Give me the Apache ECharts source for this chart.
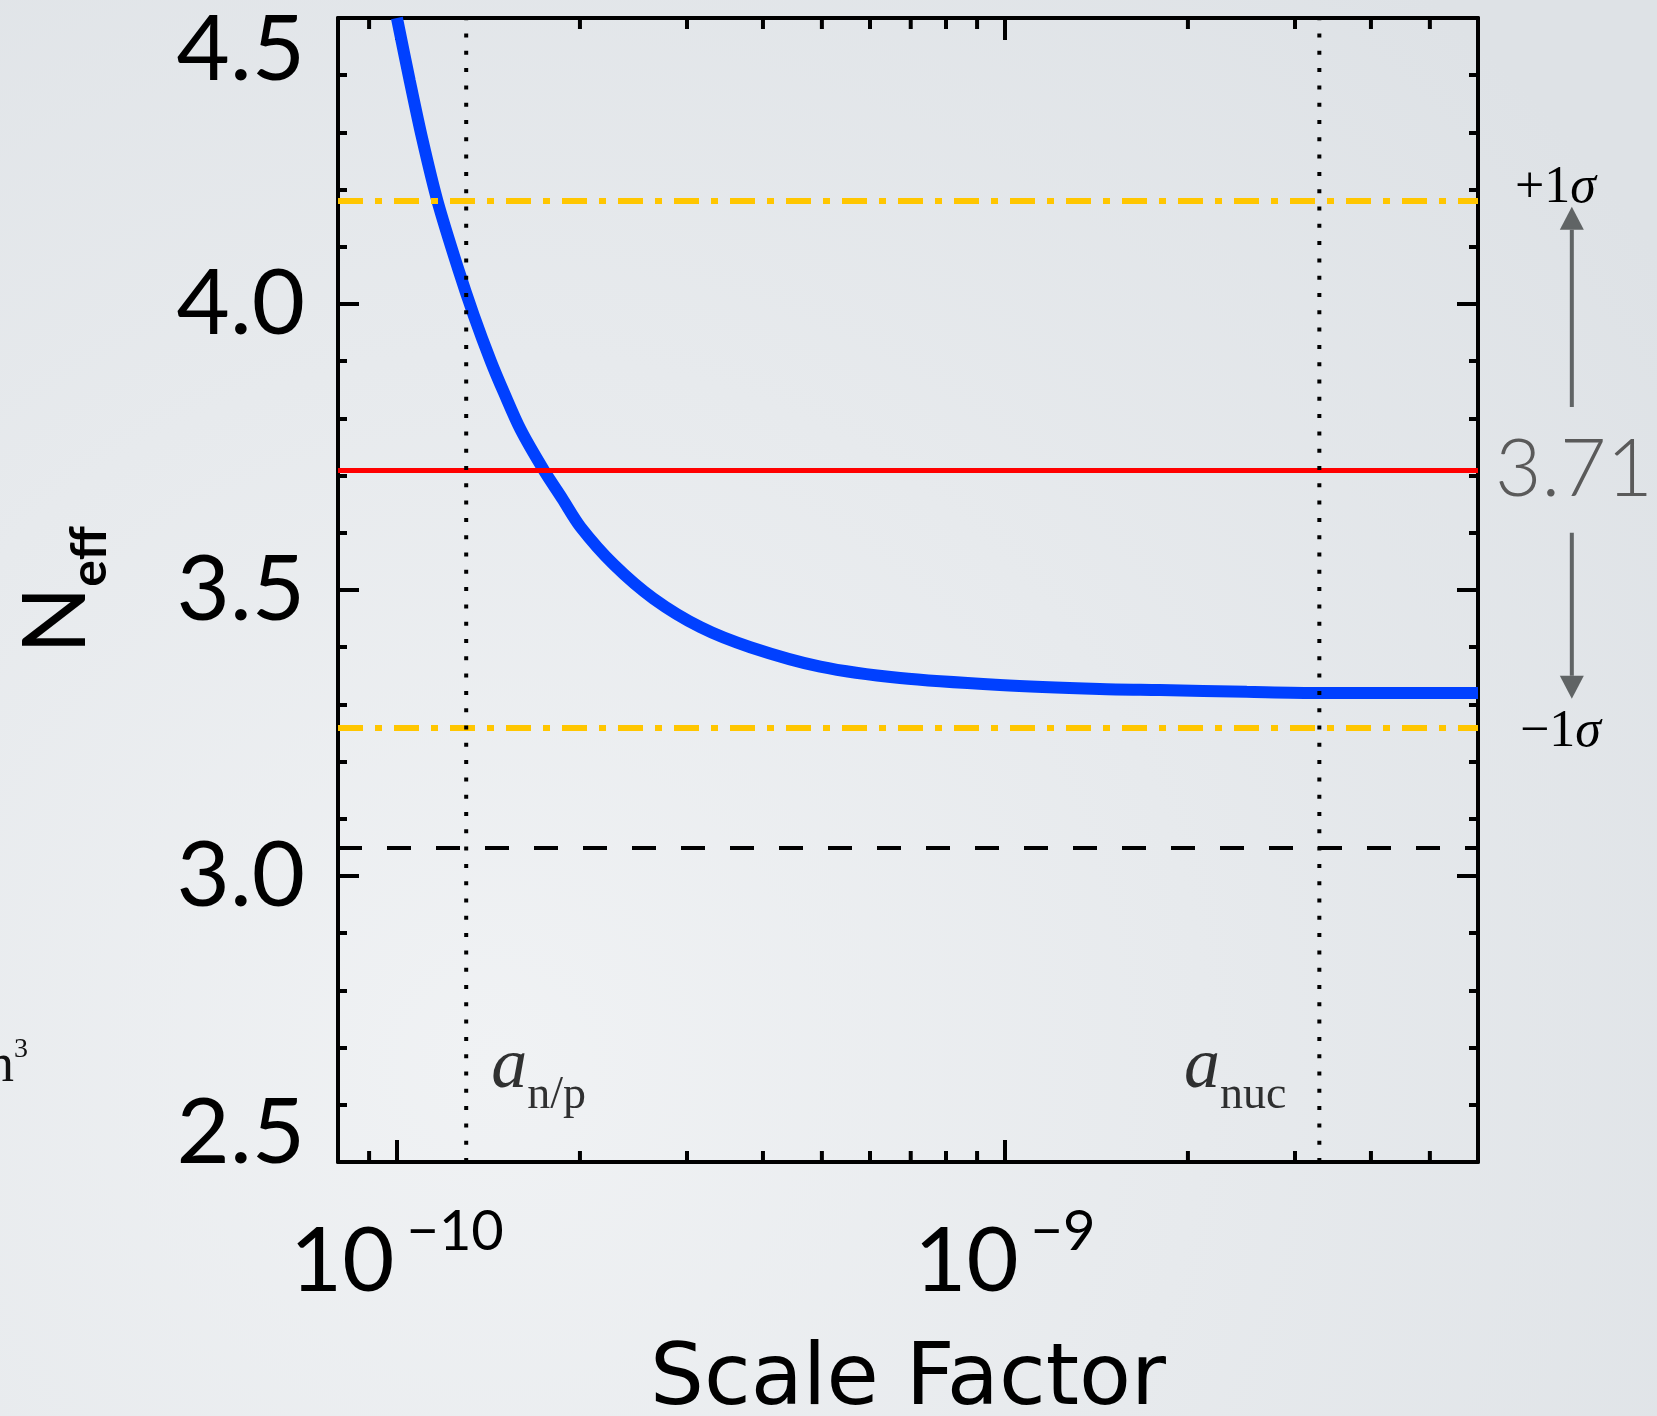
<!DOCTYPE html>
<html>
<head>
<meta charset="utf-8">
<title>N_eff vs Scale Factor</title>
<script src="https://cdn.jsdelivr.net/npm/echarts@6/dist/echarts.min.js"></script>
<style>
  html, body { margin: 0; padding: 0; background: #e8eaed; }
  #chart { width: 1657px; height: 1416px; }
</style>
</head>
<body>
<div id="chart"></div>
<script>
// Effective number of neutrino species as a function of the scale factor
const scaleFactor = [1.00e-10, 1.05e-10, 1.10e-10, 1.166e-10, 1.258e-10, 1.338e-10, 1.427e-10,
  1.50e-10, 1.598e-10, 1.743e-10, 1.87e-10, 2.005e-10, 2.271e-10, 2.642e-10, 3.157e-10,
  3.813e-10, 4.969e-10, 6.725e-10, 9.81e-10, 1.432e-9, 1.797e-9, 2.5e-9, 3.289e-9, 6.0e-9];
const nEff = [4.50, 4.39, 4.29, 4.18, 4.065, 3.98, 3.90,
  3.845, 3.78, 3.71, 3.66, 3.61, 3.545, 3.485, 3.435,
  3.40, 3.366, 3.346, 3.334, 3.327, 3.325, 3.322, 3.320, 3.320];

// Reference levels
const measuredNeff = 3.71;
const sigmaLevels = [4.18, 3.26];          // +1σ, −1σ
const sigmaNames = ['+1', '\u22121'];
const standardNeff = 3.046;

// Epochs marked by vertical dotted lines
const epochNames = ['n/p', 'nuc'];
const epochScale = [1.30e-10, 3.29e-9];

// Axis ranges and ticks
const X_MIN = 8e-11, X_MAX = 6e-9;
const Y_MIN = 2.5, Y_MAX = 4.5, Y_STEP = 0.5;
const xMinorTicks = [9e-11, 2e-10, 3e-10, 4e-10, 5e-10, 6e-10, 7e-10, 8e-10, 9e-10,
  2e-9, 3e-9, 4e-9, 5e-9];

// Arrows between the measured value and the ±1σ levels (from, to)
const arrowFrom = [3.82, 3.60];
const arrowTo = [4.17, 3.31];
const ARROW_A = 8.56e-9;
const EPOCH_LABEL_N = 2.651;

const FONT = 'Lato, "DejaVu Sans", sans-serif';
const TITLE_FONT = '"DejaVu Sans", Lato, sans-serif';
const SERIF = '"Liberation Serif", "DejaVu Serif", serif';

const chart = echarts.init(document.getElementById('chart'), null, { renderer: 'canvas', width: 1657, height: 1416 });

function powerLabel(v) {
  const e = Math.log10(v);
  const r = Math.round(e);
  if (Math.abs(e - r) > 1e-6) return '';
  return '{b|10}{s|' + (r < 0 ? '\u2212' : '') + Math.abs(r) + '}';
}
function neffLabel(v) {
  const t = v.toFixed(1);
  if (Math.abs(v - Y_MAX) < 1e-9) return '{hi|' + t + '}';
  if (Math.abs(v - Y_MIN) < 1e-9) return '{lo|' + t + '}';
  return '{m|' + t + '}';
}

const tickLine = { color: '#000', width: 4 };
const yLabelBase = { fontFamily: FONT, fontSize: 92, color: '#000' };
const sigmaRich = {
  r: { fontFamily: SERIF, fontSize: 52, color: '#000' },
  i: { fontFamily: SERIF, fontSize: 52, fontStyle: 'italic', color: '#000' }
};

const xAxisCommon = {
  type: 'log', logBase: 10, min: X_MIN, max: X_MAX,
  axisLine: { show: true, onZero: false, lineStyle: { color: '#000', width: 4 } },
  axisTick: { show: true, inside: true, length: 22, lineStyle: tickLine },
  splitLine: { show: false }, minorTick: { show: false }, minorSplitLine: { show: false }
};
const yAxisCommon = {
  type: 'value', min: Y_MIN, max: Y_MAX, interval: Y_STEP,
  axisLine: { show: true, onZero: false, lineStyle: { color: '#000', width: 4 } },
  axisTick: { show: true, inside: true, length: 21, lineStyle: tickLine },
  minorTick: { show: true, splitNumber: 5, length: 9, lineStyle: tickLine },
  splitLine: { show: false }, minorSplitLine: { show: false }
};

const option = {
  animation: false,
  backgroundColor: {
    type: 'radial', x: 0.3, y: 0.75, r: 1.0,
    colorStops: [{ offset: 0, color: '#f0f2f4' }, { offset: 1, color: '#dee2e6' }]
  },
  grid: { left: 338, top: 18, width: 1140, height: 1144, containLabel: false, outerBoundsMode: 'none' },
  xAxis: [
    Object.assign({}, xAxisCommon, {
      position: 'bottom',
      name: 'Scale Factor', nameLocation: 'middle', nameGap: 177,
      nameTextStyle: { fontFamily: TITLE_FONT, fontSize: 85, color: '#000', lineHeight: 85 },
      axisLabel: {
        show: true, margin: 42, showMinLabel: false, showMaxLabel: false,
        formatter: powerLabel,
        rich: {
          b: { fontFamily: FONT, fontSize: 90, color: '#000', lineHeight: 103, verticalAlign: 'bottom' },
          s: { fontFamily: FONT, fontSize: 56, color: '#000', lineHeight: 58, verticalAlign: 'top', padding: [0, 0, 0, 12] }
        }
      }
    }),
    Object.assign({}, xAxisCommon, { position: 'top', axisLabel: { show: false } })
  ],
  yAxis: [
    Object.assign({}, yAxisCommon, {
      position: 'left',
      name: '{n|N}{s|eff}', nameLocation: 'middle', nameRotate: 90, nameGap: 223,
      nameTextStyle: {
        rich: {
          n: { fontFamily: FONT, fontSize: 88, color: '#000', lineHeight: 102, verticalAlign: 'top' },
          s: { fontFamily: FONT, fontSize: 50, fontWeight: 'bold', color: '#000', lineHeight: 50, verticalAlign: 'bottom' }
        }
      },
      axisLabel: {
        show: true, margin: 33, formatter: neffLabel,
        rich: {
          m: yLabelBase,
          hi: Object.assign({}, yLabelBase, { padding: [64, 0, 0, 0] }),
          lo: Object.assign({}, yLabelBase, { padding: [0, 0, 58, 0] })
        }
      }
    }),
    Object.assign({}, yAxisCommon, { position: 'right', axisLabel: { show: false } })
  ],
  graphic: [{
    type: 'text', left: -13, top: 1036, silent: true,
    style: {
      text: '{n|n}{s|3}',
      rich: {
        n: { fontFamily: SERIF, fontSize: 54, fill: '#111', lineHeight: 58, verticalAlign: 'bottom' },
        s: { fontFamily: SERIF, fontSize: 28, fill: '#111', lineHeight: 30, verticalAlign: 'top' }
      }
    }
  }],
  series: [
    {
      name: 'N_eff', type: 'line', xAxisIndex: 0, yAxisIndex: 0, z: 2,
      data: scaleFactor.map((a, i) => [a, nEff[i]]),
      smooth: 0.3, symbol: 'none', clip: true, silent: true,
      lineStyle: { color: '#0040ff', width: 12, cap: 'butt' }
    },
    {
      name: 'levels', type: 'line', data: [], silent: true,
      markLine: {
        z: 5, silent: true, symbol: ['none', 'none'], animation: false,
        data: [
          {
            yAxis: sigmaLevels[0],
            lineStyle: { color: '#ffc600', width: 6, type: [25, 12, 7, 12], cap: 'butt' },
            label: {
              show: true, position: 'end', distance: 37, padding: [0, 0, 26, 0],
              formatter: '{r|' + sigmaNames[0] + '}{i|\u03c3}', rich: sigmaRich
            }
          },
          {
            yAxis: sigmaLevels[1],
            lineStyle: { color: '#ffc600', width: 6, type: [25, 12, 7, 12], cap: 'butt' },
            label: {
              show: true, position: 'end', distance: 42, padding: [10, 0, 0, 0],
              formatter: '{r|' + sigmaNames[1] + '}{i|\u03c3}', rich: sigmaRich
            }
          },
          {
            yAxis: measuredNeff,
            lineStyle: { color: '#ff0000', width: 5, type: 'solid' },
            label: {
              show: true, position: 'end', distance: 17, padding: [0, 0, 10, 0],
              formatter: (p) => String(p.value),
              fontFamily: FONT, fontWeight: 300, fontSize: 80, color: '#5a5a5a'
            }
          },
          {
            yAxis: standardNeff,
            lineStyle: { color: '#000', width: 4, type: [24, 25], cap: 'butt' },
            label: { show: false }
          }
        ]
      }
    },
    {
      name: 'epochs', type: 'custom', silent: true, clip: false, z: 9,
      data: epochScale.map(a => [a, Y_MIN, Y_MAX]),
      encode: { x: 0, y: [1, 2] },
      renderItem: function (params, api) {
        const b = api.coord([api.value(0), api.value(1)]);
        const t = api.coord([api.value(0), api.value(2)]);
        return {
          type: 'line',
          shape: { x1: b[0], y1: b[1], x2: t[0], y2: t[1] },
          style: { stroke: '#000', lineWidth: 4, lineDash: [4, 13.3], lineCap: 'butt' }
        };
      }
    },
    {
      name: 'epoch labels', type: 'scatter', symbolSize: 0, silent: true, z: 10,
      data: epochScale.map((a, i) => ({
        value: [a, EPOCH_LABEL_N],
        label: {
          show: true,
          position: i === 0 ? 'right' : 'left',
          distance: i === 0 ? 25 : 33,
          formatter: '{a|a}{s|' + epochNames[i] + '}',
          rich: {
            a: { fontFamily: SERIF, fontStyle: 'italic', fontSize: 72, color: '#000', lineHeight: 87, verticalAlign: 'top' },
            s: { fontFamily: SERIF, fontSize: 46, color: '#000', lineHeight: 50, verticalAlign: 'bottom' }
          }
        }
      }))
    },
    {
      name: 'minor ticks', type: 'custom', silent: true, clip: false, z: 8,
      data: xMinorTicks.map(v => [v, Y_MIN]),
      encode: { x: 0, y: 1 },
      renderItem: function (params, api) {
        const v = api.value(0);
        const b = api.coord([v, Y_MIN]);
        const t = api.coord([v, Y_MAX]);
        const st = { stroke: '#000', lineWidth: 4 };
        return {
          type: 'group', children: [
            { type: 'line', shape: { x1: b[0], y1: b[1], x2: b[0], y2: b[1] - 11 }, style: st },
            { type: 'line', shape: { x1: t[0], y1: t[1], x2: t[0], y2: t[1] + 11 }, style: st }
          ]
        };
      }
    },
    {
      name: 'sigma arrows', type: 'custom', silent: true, clip: false, z: 8,
      data: arrowFrom.map((f, i) => [ARROW_A, f, arrowTo[i]]),
      encode: { x: 0, y: [1, 2] },
      renderItem: function (params, api) {
        const p0 = api.coord([api.value(0), api.value(1)]);
        const p1 = api.coord([api.value(0), api.value(2)]);
        const dir = p1[1] > p0[1] ? 1 : -1;
        const headLen = 23, headHalf = 12;
        const baseY = p1[1] - dir * headLen;
        const color = '#606465';
        return {
          type: 'group', children: [
            { type: 'line', shape: { x1: p0[0], y1: p0[1], x2: p0[0], y2: baseY }, style: { stroke: color, lineWidth: 4 } },
            { type: 'polygon', shape: { points: [[p1[0], p1[1]], [p1[0] - headHalf, baseY], [p1[0] + headHalf, baseY]] }, style: { fill: color } }
          ]
        };
      }
    }
  ]
};

chart.setOption(option);
</script>
</body>
</html>
